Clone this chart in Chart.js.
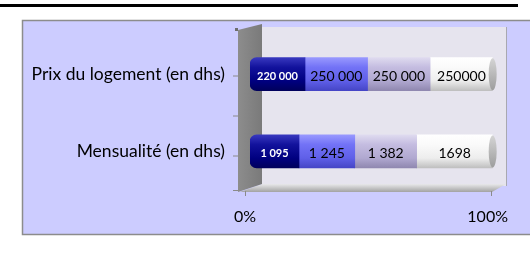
<!DOCTYPE html>
<html><head><meta charset="utf-8">
<script src="https://cdn.jsdelivr.net/npm/chart.js@4/dist/chart.umd.min.js"></script>
<style>html,body{margin:0;padding:0;background:#fff;}#wrap{width:530px;height:253px;position:relative;}</style>
</head><body><div id="wrap"><canvas id="c" width="530" height="253"></canvas></div>
<script>
const categories = ["Prix du logement (en dhs)", "Mensualité (en dhs)"];
const series1 = [220000, 1095];
const series2 = [250000, 1245];
const series3 = [250000, 1382];
const series4 = [250000, 1698];
const labels1 = ["220 000", "1 095"];
const labels2 = ["250 000", "1 245"];
const labels3 = ["250 000", "1 382"];
const labels4 = ["250000", "1698"];
const tickLabels = ["0%", "100%"];

const allSeries = [series1, series2, series3, series4];
const allLabels = [labels1, labels2, labels3, labels4];
const totals = categories.map((_, i) => allSeries.reduce((s, a) => s + a[i], 0));
const pct = allSeries.map(a => a.map((v, i) => v / totals[i] * 100));

const palette = [
  ["#3a3ac0", "#12129c", "#000080", "#00005a"],
  ["#9a9aff", "#7272f6", "#5f5fe8", "#4444c4"],
  ["#e0dcf0", "#c4bce0", "#b0a8d0", "#8e86ae"],
  ["#ffffff", "#fafafa", "#ededed", "#bdbdbd"]
];

function cylFill(ctx, k) {
  const chart = ctx.chart;
  const ys = chart.scales && chart.scales.y;
  if (!chart.chartArea || !ys || ys.getPixelForValue(0) === undefined) return palette[k][2];
  const y = ys.getPixelForValue(ctx.dataIndex);
  const h = 17;
  const g = chart.ctx.createLinearGradient(0, y - h, 0, y + h);
  g.addColorStop(0, palette[k][0]);
  g.addColorStop(0.3, palette[k][1]);
  g.addColorStop(0.7, palette[k][2]);
  g.addColorStop(1, palette[k][3]);
  return g;
}

const frame = {
  id: 'frame',
  beforeDraw(chart) {
    const c = chart.ctx, a = chart.chartArea;
    c.save();
    c.fillStyle = '#ffffff'; c.fillRect(0, 0, 530, 253);
    c.fillStyle = '#000000'; c.fillRect(0, 4, 518, 3);
    c.fillStyle = '#ccccff'; c.fillRect(22, 20, 520, 215);
    c.strokeStyle = '#8c8c8c'; c.lineWidth = 1.5;
    c.strokeRect(22.5, 20.5, 520, 214);
    // back wall
    c.fillStyle = '#e6e4ee';
    c.beginPath();
    c.moveTo(262, 27); c.lineTo(506, 27); c.lineTo(506, 186); c.lineTo(262, 186); c.closePath(); c.fill();
    c.strokeStyle = '#a8a8b0'; c.lineWidth = 1;
    c.beginPath(); c.moveTo(506.5, 27); c.lineTo(506.5, 186); c.stroke();
    // floor
    const fg = c.createLinearGradient(0, 184, 0, 193);
    fg.addColorStop(0, '#e8e8ea'); fg.addColorStop(1, '#9a9a9a');
    c.fillStyle = fg;
    c.beginPath();
    c.moveTo(262, 184); c.lineTo(506, 184); c.lineTo(492, 192); c.lineTo(240, 192); c.closePath(); c.fill();
    // left wall
    const wg = c.createLinearGradient(236, 0, 262, 0);
    wg.addColorStop(0, '#8e8e8e'); wg.addColorStop(1, '#7a7a7a');
    c.fillStyle = wg;
    c.beginPath();
    c.moveTo(238, 30); c.lineTo(262, 24); c.lineTo(262, 184); c.lineTo(238, 192); c.closePath(); c.fill();
    c.fillStyle = '#6e6e6e'; c.fillRect(235, 28, 3, 3);
    // tick marks
    c.strokeStyle = '#8a8a8a'; c.lineWidth = 1;
    [a.top + 40, a.top + 80, a.top + 120, 190].forEach(y => {
      c.beginPath(); c.moveTo(233, y + 0.5); c.lineTo(238, y + 0.5); c.stroke();
    });
    [245, 491].forEach(x => {
      c.beginPath(); c.moveTo(x + 0.5, 191); c.lineTo(x + 0.5, 196); c.stroke();
    });
    c.restore();
  },
  afterDatasetsDraw(chart) {
    const c = chart.ctx;
    c.save();
    // end caps
    const last = chart.getDatasetMeta(3).data;
    last.forEach(el => {
      const g = c.createLinearGradient(0, el.y - 17, 0, el.y + 17);
      g.addColorStop(0, '#d6d6d6'); g.addColorStop(1, '#9c9c9c');
      c.fillStyle = g;
      c.beginPath(); c.ellipse(el.x, el.y, 4, 16, 0, 0, Math.PI * 2); c.fill();
    });
    // labels
    c.textAlign = 'center'; c.textBaseline = 'middle';
    for (let k = 0; k < 4; k++) {
      const meta = chart.getDatasetMeta(k);
      meta.data.forEach((el, i) => {
        const x = (el.x + el.base) / 2;
        if (k === 0) { c.fillStyle = '#ffffff'; c.font = 'bold 11px Lato'; }
        else { c.fillStyle = '#000000'; c.font = '14px Lato'; }
        c.fillText(allLabels[k][i], x, el.y + 2);
      });
    }
    c.restore();
  }
};

new Chart(document.getElementById('c'), {
  type: 'bar',
  data: {
    labels: categories,
    datasets: pct.map((d, k) => ({
      data: d,
      backgroundColor: ctx => cylFill(ctx, k),
      borderWidth: 0,
      borderSkipped: false,
      borderRadius: k === 0 ? {topLeft: 7, bottomLeft: 7, topRight: 0, bottomRight: 0} : 0,
      barThickness: 33
    }))
  },
  options: {
    indexAxis: 'y',
    responsive: false,
    animation: false,
    layout: { padding: { top: 30, right: 30, left: 0, bottom: 0 } },
    plugins: { legend: { display: false }, tooltip: { enabled: false } },
    scales: {
      x: {
        stacked: true, min: 0, max: 100,
        afterBuildTicks: s => { s.ticks = [{value: 0}, {value: 100}]; },
        afterFit: s => { s.height = 63; },
        grid: { display: false, drawTicks: false },
        border: { display: false },
        ticks: {
          callback: (v) => v === 0 ? tickLabels[0] : tickLabels[1],
          font: { family: 'Lato', size: 16 }, color: '#000', padding: 17,
          labelOffset: -5, maxRotation: 0
        }
      },
      y: {
        stacked: true,
        afterFit: s => { s.width = 250; },
        grid: { display: false, drawTicks: false },
        border: { display: false },
        ticks: { font: { family: 'Lato', size: 17.5 }, color: '#000', padding: 25 }
      }
    }
  },
  plugins: [frame]
});
</script></body></html>
